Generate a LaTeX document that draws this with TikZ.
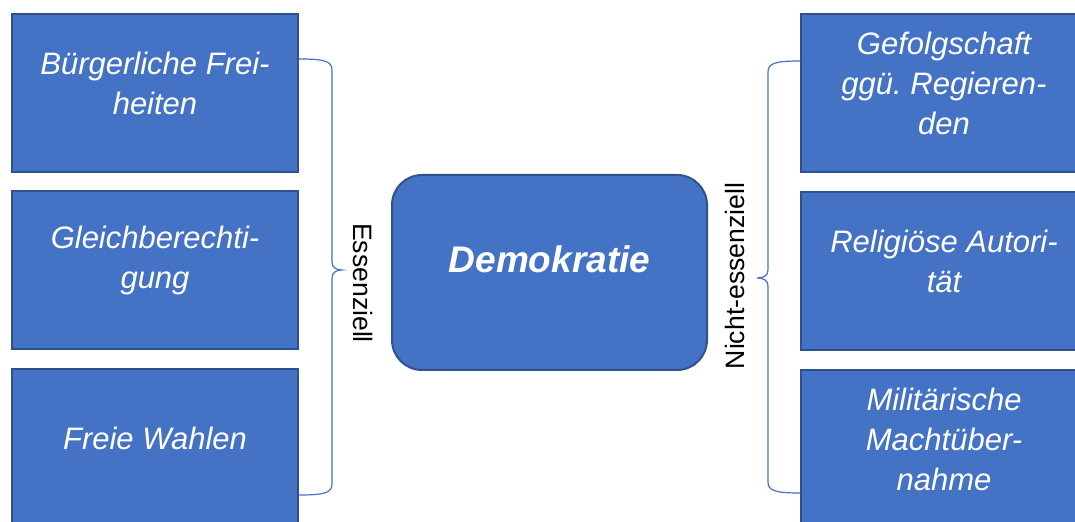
\documentclass[tikz,border=0pt]{standalone}
\usepackage{fontspec}
\setmainfont{Liberation Sans}
\frenchspacing

\definecolor{kastenblau}{HTML}{4472C4}
\definecolor{randblau}{HTML}{2F528F}

\tikzset{
  kasten/.style={draw=randblau, fill=kastenblau, line width=1pt, minimum width=143pt, minimum height=79pt, inner sep=0pt},
  kastentext/.style={text=white, align=center, font=\fontsize{15.5}{20}\selectfont\itshape},
  klammer/.style={draw=kastenblau, line width=0.6pt},
  seite/.style={font=\fontsize{13.3}{15}\selectfont}
}

\begin{document}
\begin{tikzpicture}[x=0.5pt,y=-0.5pt]
   \useasboundingbox (0,0) rectangle (1075,522);
   \clip (0,0) rectangle (1075,522);
   % left column
   \node [kasten] (l1) at (155,93) {};
   \node [kastentext] (lt1) at ([yshift=5pt]l1.center) {Bürgerliche Frei-\\heiten};
   \node [kasten] (l2) at (155,270) {};
   \node [kastentext] (lt2) at ([yshift=5pt]l2.center) {Gleichberechti-\\gung};
   \node [kasten] (l3) at (155,448) {};
   \node [kastentext] (lt3) at ([yshift=5pt]l3.center) {Freie Wahlen};
   % right column
   \node [kasten] (r1) at (944,93) {};
   \node [kastentext] (rt1) at ([yshift=5pt]r1.center) {Gefolgschaft\\ggü. Regieren-\\den};
   \node [kasten] (r2) at (944,271) {};
   \node [kastentext] (rt2) at ([yshift=5pt]r2.center) {Religiöse Autori-\\tät};
   \node [kasten] (r3) at (944,449) {};
   \node [kastentext] (rt3) at ([yshift=5pt]r3.center) {Militärische\\Machtüber-\\nahme};
   % middle
   \node [kasten, rounded corners=15pt, minimum width=157.5pt, minimum height=97.5pt] (demo) at (549.5,272.5) {};
   \node [text=white, font=\fontsize{18.5}{22}\selectfont\bfseries\itshape] (demotext) at ([yshift=6.5pt]demo.center) {Demokratie};
   % braces
   \coordinate (eo) at (l1.east |- 0,59);
   \coordinate (eu) at (l3.east |- 0,495);
   \draw [klammer] (eo) .. controls (324,59) and (332,61) .. (332,70) -- (332,262)
      .. controls (332,268) and (337,270) .. (342,270)
      .. controls (337,270) and (332,272) .. (332,278) -- (332,484)
      .. controls (332,493) and (324,495) .. (eu);
   \coordinate (no) at (r1.west |- 0,61);
   \coordinate (nu) at (r3.west |- 0,493);
   \draw [klammer] (no) .. controls (776,61) and (768,63) .. (768,72) -- (768,270)
      .. controls (768,276) and (763,278) .. (757,278)
      .. controls (763,278) and (768,280) .. (768,286) -- (768,482)
      .. controls (768,491) and (776,493) .. (nu);
   \node [seite, rotate=-90] (ess) at (363,283) {Essenziell};
   \node [seite, rotate=90] (ness) at (735,276) {Nicht-essenziell};
\end{tikzpicture}
\end{document}
